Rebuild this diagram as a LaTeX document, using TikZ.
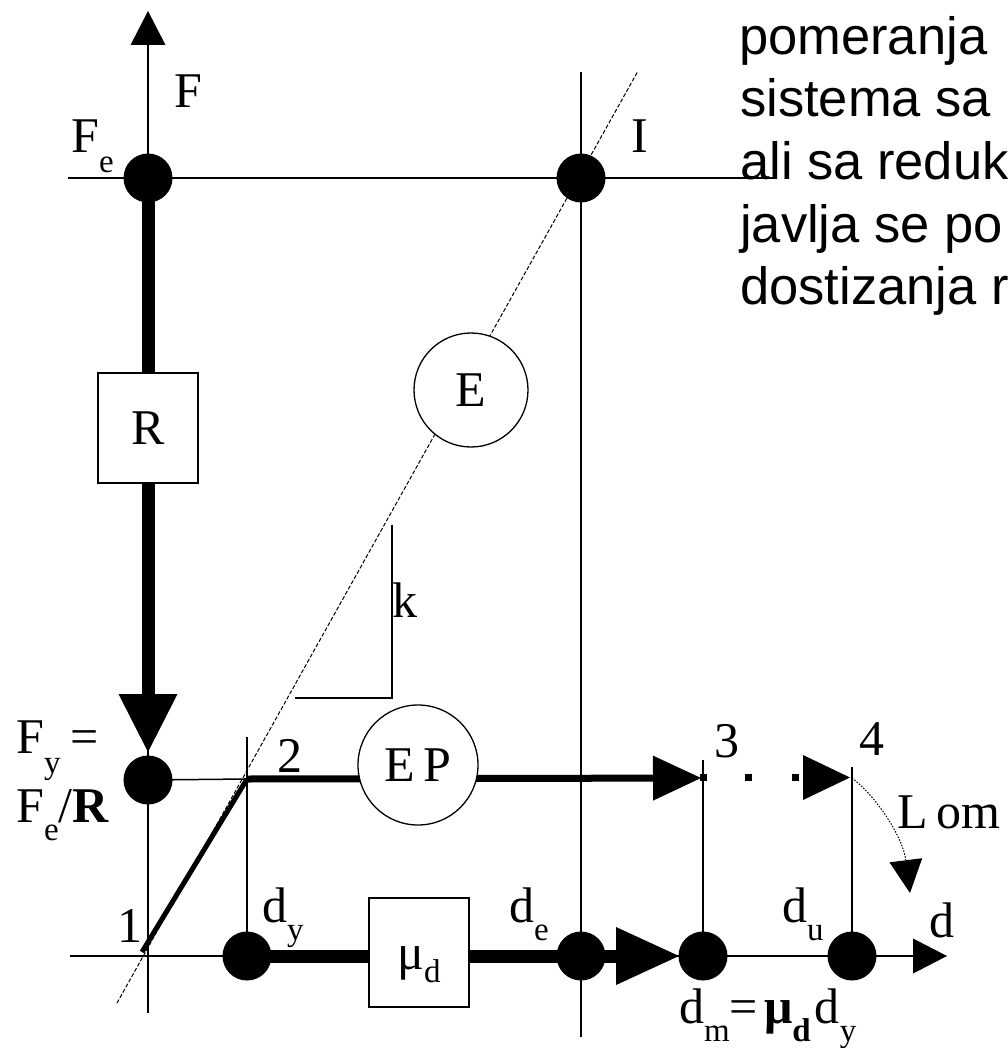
\documentclass[tikz,border=0pt]{standalone}
\usepackage{fontspec}
\setmainfont{Liberation Serif}
\newfontfamily\sansf{Liberation Sans}
\usetikzlibrary{arrows.meta}
\newcommand{\lsub}[2][20pt]{\raisebox{-#1}{\fontsize{33}{33}\selectfont #2}}
\begin{document}
\begin{tikzpicture}[x=1pt,y=-1pt,
  thinline/.style={line width=1.5pt},
  dot/.style={circle,fill=black,inner sep=0pt,minimum size=49pt},
  lbl/.style={font=\fontsize{50}{50}\selectfont,inner sep=0pt},
  boxn/.style={draw,line width=1.3pt,fill=white,minimum width=100pt,minimum height=110pt,inner sep=0pt,font=\fontsize{50}{50}\selectfont},
  circn/.style={circle,draw,line width=1.3pt,fill=white,inner sep=0pt,font=\fontsize{50}{50}\selectfont},
  sans/.style={font=\sansf\fontsize{52.5}{63}\selectfont,anchor=base west,inner sep=0pt},
  tipS/.style={-{Triangle[length=34pt,width=35pt,line width=0pt]}}]
\useasboundingbox (0,0) rectangle (1007,1048);
\clip (0,0) rectangle (1007,1048);
% points
\coordinate (Ftop) at (148,11);
\coordinate (Fbot) at (148,1013);
\coordinate (dleft) at (70,956);
\coordinate (dtip) at (947,956);
\coordinate (Fe) at (148,178);
\coordinate (Ipt) at (581,178);
\coordinate (hl) at (68,178);
\coordinate (hr) at (773,178);
\coordinate (vIt) at (581,72);
\coordinate (vIb) at (581,1037);
\coordinate (Fy) at (148,780);
\coordinate (Rtip) at (148,752);
\coordinate (P1) at (142,952);
\coordinate (P2) at (247,779);
\coordinate (v2t) at (247,737);
\coordinate (dy) at (247,956);
\coordinate (de) at (581,956);
\coordinate (dm) at (703,956);
\coordinate (du) at (852,956);
\coordinate (dmtip) at (679,956);
\coordinate (v3t) at (703,760);
\coordinate (v4t) at (852,767);
\coordinate (P3tip) at (701,778);
\coordinate (P4) at (852,778);
\coordinate (Lomtip) at (910,893);
\coordinate (dashA) at (117,1003);
\coordinate (dashB) at (638,71);
\coordinate (k1) at (392,525);
\coordinate (k2) at (392,698);
\coordinate (k3) at (295,698);
% thin lines and axes
\draw[thinline,tipS] (Fbot) -- (Ftop);
\draw[thinline,tipS] (dleft) -- (dtip);
\draw[thinline] (hl) -- (hr);
\draw[thinline] (vIt) -- (vIb);
\draw[thinline] (Fy) -- (P2);
\draw[thinline] (v2t) -- (dy);
\draw[thinline] (v3t) -- (dm);
\draw[thinline] (v4t) -- (du);
\draw[thinline] (k1) -- (k2) -- (k3);
\draw[line width=1pt,dash pattern=on 4pt off 2pt] (dashA) -- (dashB);
% thick lines
\draw[line width=13pt,-{Triangle[length=58pt,width=59pt,line width=0pt]}] (Fe) -- (Rtip);
\draw[line width=5pt] (P1) -- (P2);
\draw[line width=7pt,-{Triangle[length=48pt,width=45pt,line width=0pt]}] (P2) -- (P3tip);
\fill (803,755) -- (850,777.5) -- (803,800) -- cycle;
\fill (699.5,774) rectangle +(7,7);
\fill (744.5,774) rectangle +(7,7);
\fill (791.5,774) rectangle +(7,7);
\draw[line width=13pt] (dy) -- (de);
\draw[line width=13pt,-{Triangle[length=63pt,width=58pt,line width=0pt]}] (de) -- (dmtip);
\draw[line width=1pt,dash pattern=on 1.5pt off 1.5pt,-{Triangle[length=33pt,width=33pt,line width=0pt]}] (P4) .. controls (878,798) and (903,838) .. (Lomtip);
% boxes and circles
\node[boxn] (Rbox) at (148,428) {R};
\node[boxn,minimum height=109pt,text height=40pt,text depth=6pt] (mubox) at (419,952.5) {μ\lsub[13pt]{d}};
\node[circn,minimum size=114pt] (Ec) at (471,390) {E};
\node[circn,minimum size=120pt] (EPc) at (418,765) {E\hspace{9pt}P};
% dots
\node[dot] (FeD) at (Fe) {};
\node[dot] (ID) at (Ipt) {};
\node[dot] (FyD) at (Fy) {};
\node[dot] (dyD) at (dy) {};
\node[dot] (deD) at (de) {};
\node[dot] (dmD) at (dm) {};
\node[dot] (duD) at (du) {};
% labels
\node[lbl,anchor=base west] (Flab) at (174,108) {F};
\node[lbl,anchor=base west] (Felab) at (71,153) {F\lsub{e}};
\node[lbl,anchor=base] (Ilab) at (640,153) {I};
\node[lbl,anchor=base west] (klab) at (392,617) {k};
\node[lbl,anchor=base] (n1) at (130,942) {1};
\node[lbl,anchor=base] (n2) at (290,772) {2};
\node[lbl,anchor=base] (n3) at (727,757) {3};
\node[lbl,anchor=base] (n4) at (872,755) {4};
\node[lbl,anchor=base west] (Lomlab) at (897,828) {L\hspace{9pt}om};
\node[lbl,anchor=base west] (dlab) at (929,937) {d};
\node[lbl,anchor=base west] (dylab) at (262,922) {d\lsub[18pt]{y}};
\node[lbl,anchor=base west] (delab) at (509,922) {d\lsub[18pt]{e}};
\node[lbl,anchor=base west] (dulab) at (782,922) {d\lsub[18pt]{u}};
\node[lbl,anchor=base west] (dmlab) at (679,1023) {d\lsub[18pt]{m}=\hspace{6pt}\textbf{μ}\lsub[18pt]{\textbf{d}}\hspace{4pt}d\lsub[18pt]{y}};
\node[lbl,anchor=base west] (Fylab) at (16,753) {F\lsub{y}\hspace{10pt}=};
\node[lbl,anchor=base west] (Fe2lab) at (16,822) {F\lsub[18pt]{e}/\textbf{R}};
% text
\node[sans] (t1) at (739,55) {pomeranja};
\node[sans] (t2) at (740,117) {sistema sa};
\node[sans] (t3) at (740,180) {ali sa reduk};
\node[sans] (t4) at (740,243) {javlja se po};
\node[sans] (t5) at (740,305) {dostizanja r};
\end{tikzpicture}
\end{document}
